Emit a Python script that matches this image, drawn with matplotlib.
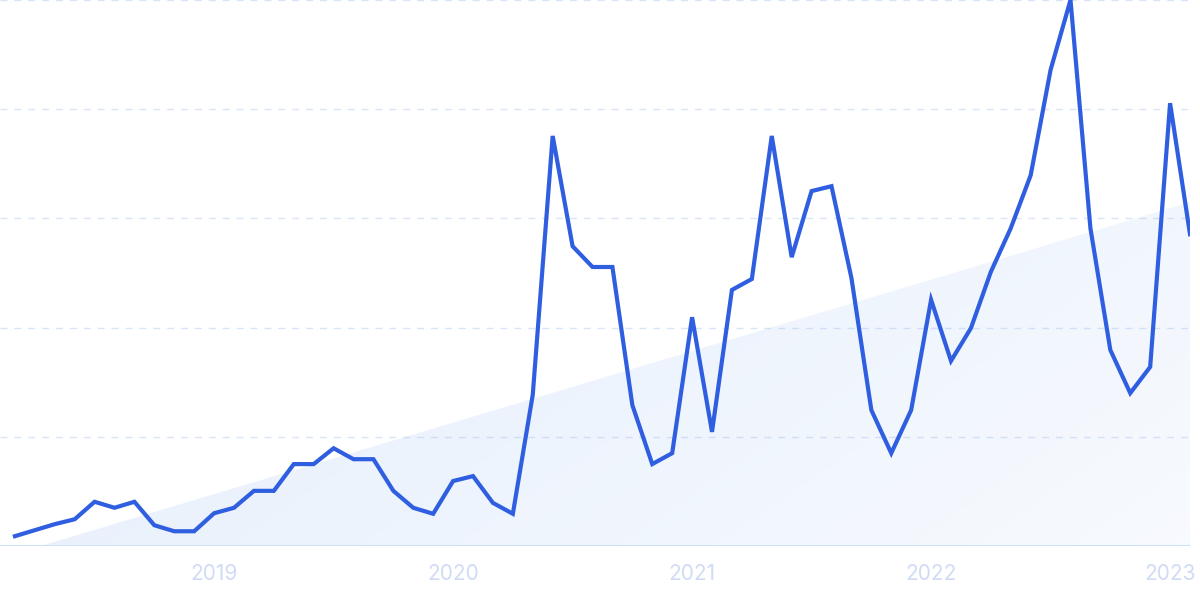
import numpy as np
import pandas as pd
import matplotlib.pyplot as plt
from matplotlib.patches import Polygon

plt.rcParams['font.family'] = ['Inter', 'DejaVu Sans']

# monthly values, Mar 2018 .. Feb 2023 (0-100 scale)
months = pd.date_range('2018-03-01', periods=60, freq='MS')
values = [1.8, 2.9, 4.0, 4.9, 8.1, 7.0, 8.1, 3.8, 2.7, 2.7,
          6.0, 7.0, 10.1, 10.1, 15.0, 15.0, 17.9, 15.9, 15.9, 10.1,
          7.0, 5.9, 11.9, 12.8, 7.9, 5.9, 27.7, 75.1, 54.9, 51.1,
          51.1, 25.8, 15.0, 17.0, 41.9, 20.9, 46.9, 48.9, 75.1, 52.9,
          65.0, 65.9, 49.1, 24.9, 17.0, 24.9, 45.1, 33.9, 39.9, 50.2,
          58.2, 67.9, 87.2, 100.0, 58.2, 35.9, 28.0, 32.8, 81.1, 57.1]
year_ticks = ['2019', '2020', '2021', '2022', '2023']
grid_levels = [20, 40, 60, 80, 100]

x = np.arange(len(values))
y = np.array(values)

# linear trend of the series
slope, intercept = np.polyfit(x, y, 1)

fig = plt.figure(figsize=(12, 5.99), dpi=100)
ax = fig.add_axes([0, 53 / 599, 1190 / 1200, 546 / 599])
ax.set_xlim(-0.75, len(values) - 1)
ax.set_ylim(0, 100)

# gradient-filled trend area
xs = np.linspace(-0.75, len(values) - 1, 400)
ts = np.clip(slope * xs + intercept, 0, None)
poly = Polygon(np.column_stack([np.r_[xs, xs[::-1]], np.r_[ts, np.zeros_like(xs)]]),
               closed=True, facecolor='none', edgecolor='none')
ax.add_patch(poly)
gx, gy = np.meshgrid(np.linspace(0, 1, 300), np.linspace(0, 1, 200))
a = 0.32 - 0.24 * (0.6 * gx + 0.4 * (1 - gy))
img = np.zeros((200, 300, 4))
img[..., 0] = 0.62
img[..., 1] = 0.76
img[..., 2] = 0.96
img[..., 3] = np.clip(a, 0.03, 1)
im = ax.imshow(img, extent=[-0.75, len(values) - 1, 0, 100], origin='lower',
               aspect='auto', zorder=1)
im.set_clip_path(poly)

for g in grid_levels:
    ax.axhline(g, color='#d8e5f9', lw=1, ls=(0, (5, 5)), zorder=0)
ax.axhline(0, color='#c9defa', lw=2, zorder=2)

ax.plot(x, y, color='#2f5fe0', lw=3.0, solid_joinstyle='miter', zorder=3)

tick_pos = [list(months).index(pd.Timestamp(t + '-01-01')) for t in year_ticks]
ax.set_xticks(tick_pos)
ax.set_xticklabels(year_ticks, fontsize=15, color='#d0dbf5')
ax.tick_params(axis='x', length=0, pad=13)
ax.set_yticks([])
for s in ax.spines.values():
    s.set_visible(False)

fig.savefig('out.png', dpi=100)
